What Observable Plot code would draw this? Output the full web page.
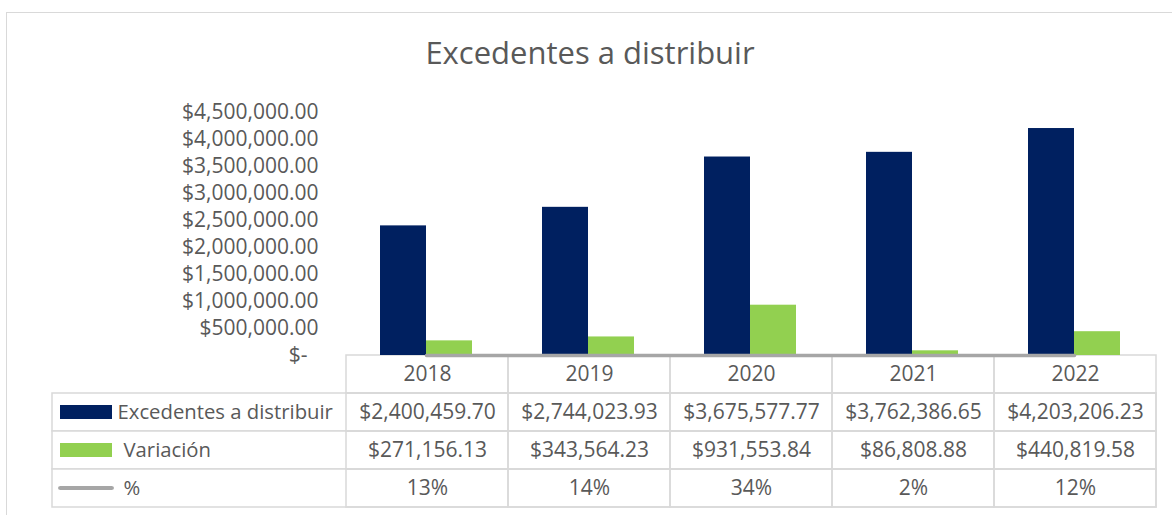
<!DOCTYPE html>
<html>
<head>
<meta charset="utf-8">
<script src="https://cdn.jsdelivr.net/npm/d3@7"></script>
<script src="https://cdn.jsdelivr.net/npm/@observablehq/plot@0.6"></script>
<style>
  html, body { margin: 0; padding: 0; background: #fff; }
  #wrap { position: relative; width: 1172px; height: 515px; overflow: hidden; font-family: "Open Sans", sans-serif; color: #595959; }
  #frame { position: absolute; left: 6px; top: 12px; width: 1200px; height: 600px; border: 1.5px solid #d9d9d9; box-sizing: border-box; }
  #title { position: absolute; left: 0px; width: 1180px; top: 31px; text-align: center; font-size: 31px; color: #595959; }
  .p { position: absolute; left: 0; }
  #chart { z-index: 2; }
  #table { z-index: 1; }
</style>
</head>
<body>
<div id="wrap">
  <div id="frame"></div>
  <div id="title">Excedentes a distribuir</div>
</div>
<script>
const years = ["2018", "2019", "2020", "2021", "2022"];
const excedentes = [2400459.70, 2744023.93, 3675577.77, 3762386.65, 4203206.23];
const variacion = [271156.13, 343564.23, 931553.84, 86808.88, 440819.58];
const porcentaje = [0.13, 0.14, 0.34, 0.02, 0.12];
const seriesNames = ["Excedentes a distribuir", "Variación", "%"];
const yTicks = [0, 500000, 1000000, 1500000, 2000000, 2500000, 3000000, 3500000, 4000000, 4500000];

const NAVY = "#002060", GREEN = "#92D050", GRAY = "#A6A6A6", TEXT = "#595959", BORDER = "#D9D9D9";

const exData = years.map((y, i) => ({year: y, value: excedentes[i]}));
const varData = years.map((y, i) => ({year: y, value: variacion[i]}));
const pctData = years.map((y, i) => ({year: y, value: porcentaje[i]}));

const money = d3.format(",.2f");
const fmtMoney = v => "$" + money(v);
const fmtPct = v => Math.round(v * 100) + "%";

const FS = 21;
const LFS = 20.3;
const NUM_SPACING = "0.35px";

// Chart
const chart = Plot.plot({
  width: 1172,
  height: 381,
  marginLeft: 345,
  marginRight: 17,
  marginTop: 112,
  marginBottom: 26,
  style: {fontFamily: "Open Sans, sans-serif", fontSize: FS + "px", color: TEXT, background: "transparent", overflow: "visible"},
  x: {type: "band", domain: years, paddingInner: 70 / 162, paddingOuter: 35 / 162, axis: null},
  y: {domain: [0, 4500000], ticks: yTicks},
  marks: [
    Plot.axisY({ticks: yTicks, tickSize: 0, tickPadding: 27, fill: TEXT, fontSize: FS, letterSpacing: NUM_SPACING,
      tickFormat: d => d === 0 ? "$-\u00a0\u00a0" : fmtMoney(d), label: null}),
    Plot.barY(exData, {x: "year", y: "value", fill: NAVY, insetRight: 46}),
    Plot.barY(varData, {x: "year", y: "value", fill: GREEN, insetLeft: 46}),
    Plot.line(pctData, {x: "year", y: "value", stroke: GRAY, strokeWidth: 3.5})
  ]
});
chart.classList.add("p");
chart.id = "chart";
chart.style.top = "0px";

// Data table
const rows = ["head", ...seriesNames];
const cells = [];
years.forEach((y, i) => {
  cells.push({year: y, row: "head", label: y});
  cells.push({year: y, row: seriesNames[0], label: fmtMoney(excedentes[i])});
  cells.push({year: y, row: seriesNames[1], label: fmtMoney(variacion[i])});
  cells.push({year: y, row: seriesNames[2], label: fmtPct(porcentaje[i])});
});
const legendRows = seriesNames.map(name => ({row: name}));

const table = Plot.plot({
  width: 1172,
  height: 156,
  marginLeft: 52,
  marginRight: 16,
  marginTop: 1,
  marginBottom: 2,
  style: {fontFamily: "Open Sans, sans-serif", fontSize: FS + "px", color: TEXT, background: "transparent", overflow: "visible"},
  x: {type: "band", domain: years, range: [345, 1156], padding: 0, axis: null},
  y: {type: "band", domain: rows, padding: 0, axis: null},
  marks: [
    Plot.cell(legendRows, {y: "row", fill: "white", stroke: BORDER, strokeWidth: 1.5, inset: 0}),
    Plot.cell(cells, {x: "year", y: "row", fill: "none", stroke: BORDER, strokeWidth: 1.5, inset: 0}),
    Plot.text(cells, {x: "year", y: "row", text: "label", fill: TEXT, fontSize: FS, letterSpacing: NUM_SPACING}),
    // legend keys
    Plot.cell(legendRows.slice(0, 1), {y: "row", fill: NAVY, insetLeft: 8, insetRight: 1104 - 60, insetTop: 12, insetBottom: 12}),
    Plot.cell(legendRows.slice(1, 2), {y: "row", fill: GREEN, insetLeft: 8, insetRight: 1104 - 60, insetTop: 12, insetBottom: 12}),
    Plot.cell(legendRows.slice(2, 3), {y: "row", fill: GRAY, insetLeft: 6, insetRight: 1104 - 62, insetTop: 17, insetBottom: 17, rx: 2.5}),
    Plot.text(legendRows.slice(0, 1), {y: "row", text: "row", frameAnchor: "left", textAnchor: "start", dx: 65, fill: TEXT, fontSize: LFS}),
    Plot.text(legendRows.slice(1), {y: "row", text: "row", frameAnchor: "left", textAnchor: "start", dx: 71, fill: TEXT, fontSize: LFS})
  ]
});
table.classList.add("p");
table.id = "table";
table.style.top = "353px";

const wrap = document.getElementById("wrap");
wrap.appendChild(table);
wrap.appendChild(chart);
</script>
</body>
</html>
